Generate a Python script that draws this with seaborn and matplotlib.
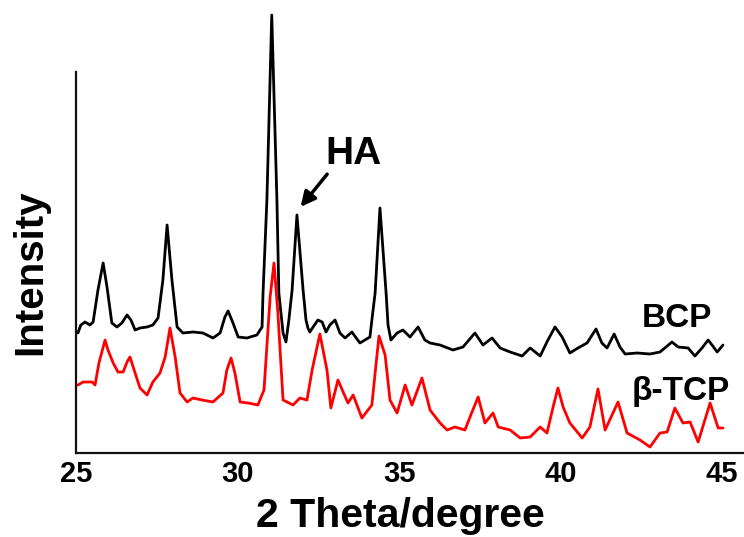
import numpy as np
import pandas as pd
import matplotlib
matplotlib.use("Agg")
import matplotlib.pyplot as plt
from matplotlib.ticker import MultipleLocator, NullFormatter
import seaborn as sns

# XRD patterns (2 theta in degree, intensity in a.u.)
bcp_theta = [25.06, 25.15, 25.28, 25.43, 25.53, 25.68, 25.84, 25.96, 26.11, 26.27,
             26.42, 26.58, 26.70, 26.83, 26.98, 27.20, 27.38, 27.54, 27.69, 27.82,
             27.97, 28.13, 28.31, 28.62, 28.93, 29.24, 29.46, 29.61, 29.71, 29.86,
             30.02, 30.29, 30.60, 30.76, 30.79, 30.91, 31.06, 31.22, 31.28, 31.41,
             31.50, 31.59, 31.69, 31.84, 32.03, 32.12, 32.18, 32.24, 32.34, 32.49,
             32.62, 32.74, 32.86, 33.02, 33.17, 33.33, 33.54, 33.79, 34.10, 34.16,
             34.26, 34.41, 34.60, 34.66, 34.75, 34.94, 35.12, 35.34, 35.59, 35.80,
             35.96, 36.27, 36.67, 36.98, 37.35, 37.60, 37.88, 38.13, 38.44, 38.81,
             39.06, 39.37, 39.61, 39.83, 40.05, 40.29, 40.54, 40.82, 41.10, 41.28,
             41.44, 41.66, 41.84, 42.00, 42.37, 42.77, 43.08, 43.45, 43.64, 43.95,
             44.16, 44.38, 44.57, 44.69, 44.85, 45.03]
bcp_int = [120, 128, 131, 128, 131, 163, 190, 166, 130, 126,
           130, 138, 133, 123, 125, 126, 128, 135, 173, 228,
           173, 126, 120, 121, 120, 115, 120, 136, 142, 130,
           116, 115, 118, 126, 160, 253, 438, 253, 160, 120,
           111, 133, 163, 238, 163, 133, 125, 121, 126, 133,
           131, 121, 128, 133, 120, 115, 121, 110, 116, 133,
           160, 245, 160, 128, 113, 120, 123, 116, 126, 113,
           110, 108, 103, 106, 120, 108, 115, 105, 101, 97,
           105, 97, 113, 126, 116, 100, 105, 110, 124, 110,
           105, 119, 106, 99, 100, 99, 101, 111, 106, 105,
           97, 105, 113, 108, 101, 108]

tcp_theta = [25.06, 25.22, 25.50, 25.59, 25.71, 25.90, 25.99, 26.15, 26.30, 26.46,
             26.58, 26.67, 26.80, 26.98, 27.20, 27.38, 27.60, 27.76, 27.91, 28.07,
             28.22, 28.44, 28.62, 28.90, 29.24, 29.55, 29.67, 29.80, 29.92, 30.08,
             30.33, 30.63, 30.82, 31.01, 31.13, 31.25, 31.41, 31.72, 31.93, 32.15,
             32.31, 32.55, 32.77, 32.89, 33.11, 33.27, 33.42, 33.58, 33.85, 34.16,
             34.26, 34.38, 34.57, 34.72, 34.94, 35.19, 35.40, 35.71, 35.96, 36.27,
             36.49, 36.73, 37.04, 37.26, 37.45, 37.66, 37.91, 38.07, 38.44, 38.75,
             39.06, 39.37, 39.58, 39.77, 39.92, 40.08, 40.29, 40.67, 40.91, 41.16,
             41.38, 41.78, 42.06, 42.46, 42.77, 43.08, 43.30, 43.54, 43.79, 44.01,
             44.26, 44.63, 44.88, 45.03]
tcp_int = [68, 71, 71, 68, 90, 113, 103, 90, 81, 81,
           91, 96, 83, 65, 58, 71, 80, 96, 125, 96,
           60, 51, 55, 53, 51, 60, 83, 95, 80, 51,
           50, 48, 63, 156, 190, 140, 53, 48, 55, 53,
           83, 119, 83, 45, 73, 61, 50, 58, 35, 48,
           80, 117, 98, 53, 40, 68, 48, 75, 43, 30,
           23, 26, 23, 41, 56, 30, 40, 26, 23, 15,
           16, 26, 20, 46, 65, 46, 30, 15, 26, 64,
           23, 51, 20, 13, 6, 20, 21, 45, 30, 31,
           11, 50, 25, 25]

samples = ["BCP", "β-TCP"]
colors = {"BCP": "#000000", "β-TCP": "#ff0000"}

df = pd.concat([
    pd.DataFrame({"theta": bcp_theta, "intensity": bcp_int, "sample": "BCP"}),
    pd.DataFrame({"theta": tcp_theta, "intensity": tcp_int, "sample": "β-TCP"}),
], ignore_index=True)

sns.set_style("white")
plt.rcParams["font.family"] = ["Liberation Sans", "DejaVu Sans"]
plt.rcParams["font.weight"] = "bold"
plt.rcParams["text.color"] = "black"
plt.rcParams["axes.labelcolor"] = "black"
plt.rcParams["xtick.color"] = "black"
plt.rcParams["ytick.color"] = "black"

fig = plt.figure(figsize=(7.44, 5.37), dpi=100)
ax = fig.add_axes([76 / 744, 84 / 537, 668 / 744, 453 / 537])

sns.lineplot(data=df, x="theta", y="intensity", hue="sample", palette=colors,
             hue_order=samples, estimator=None, sort=False, legend=False,
             linewidth=2.0, ax=ax)

for s in ["top", "right"]:
    ax.spines[s].set_visible(False)
for s in ["left", "bottom"]:
    ax.spines[s].set_linewidth(1.6)
    ax.spines[s].set_color("#111111")
ax.spines["left"].set_bounds(0, 381)

ax.xaxis.set_major_locator(MultipleLocator(5))
ax.xaxis.set_minor_locator(MultipleLocator(2.5))
ax.set_yticks(np.arange(0, 382, 44))
ax.yaxis.set_major_formatter(NullFormatter())
ax.tick_params(axis="x", which="both", direction="inout", length=4, width=1,
               color="#111111", labelsize=21, pad=3)
ax.tick_params(axis="y", direction="in", length=3, width=1, color="#111111")
for lab in ax.get_xticklabels():
    lab.set_fontweight("bold")

ax.set_xlim(25, 45.68)
ax.set_ylim(0, 453)

ax.set_xlabel("2 Theta/degree", fontsize=29.5, fontweight="bold", color="black")
ax.xaxis.set_label_coords(0.485, -0.097)
ax.set_ylabel("Intensity", fontsize=29, fontweight="bold", color="black")
ax.yaxis.set_label_coords(-0.04, 0.40)

ax.text(33.58, 289, "HA", fontsize=28, fontweight="bold", ha="center", va="baseline")
ax.annotate("", xy=(31.9, 244), xytext=(32.83, 281),
            arrowprops=dict(arrowstyle="-|>", color="k", lw=2.5, mutation_scale=22))
ax.text(43.61, 126, "BCP", fontsize=24, fontweight="bold", ha="center", va="baseline")
ax.text(43.73, 53, "β-TCP", fontsize=24, fontweight="bold", ha="center", va="baseline")

fig.savefig("out.png", dpi=100)
